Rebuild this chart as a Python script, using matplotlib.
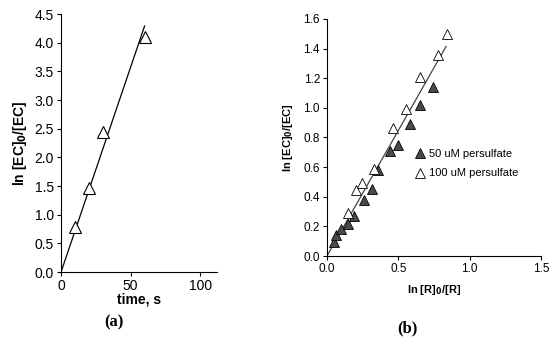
import numpy as np
import matplotlib.pyplot as plt

plt.rcParams['font.family'] = ['Liberation Sans', 'DejaVu Sans']

# panel (a): first-order plot vs time
time_s = [10, 20, 30, 60]
ln_ec_a = [0.78, 1.47, 2.45, 4.10]
fit_a_x = [0, 60]
fit_a_y = [0, 4.29]

# panel (b): competition kinetics
r50 = [0.047, 0.066, 0.098, 0.148, 0.19, 0.26, 0.316, 0.36, 0.445, 0.50, 0.58, 0.652, 0.745]
ec50 = [0.095, 0.142, 0.185, 0.216, 0.27, 0.378, 0.45, 0.58, 0.707, 0.747, 0.89, 1.017, 1.143]
r100 = [0.145, 0.20, 0.248, 0.33, 0.46, 0.553, 0.652, 0.78, 0.839]
ec100 = [0.288, 0.445, 0.49, 0.59, 0.864, 0.995, 1.21, 1.36, 1.50]
fit_b_x = [0, 0.835]
fit_b_y = [0, 1.415]

fig = plt.figure(figsize=(5.5, 3.39), dpi=100)

ax1 = fig.add_axes([0.111, 0.1976, 0.2835, 0.7611])
ax1.plot(fit_a_x, fit_a_y, color='black', lw=0.9)
ax1.plot(time_s, ln_ec_a, linestyle='none', marker='^', markersize=9,
         markerfacecolor='white', markeredgecolor='black', markeredgewidth=0.8)
ax1.set_xlim(0, 112)
ax1.set_ylim(0, 4.5)
ax1.set_xticks([0, 50, 100])
ax1.set_yticks(np.arange(0, 4.51, 0.5))
ax1.set_yticklabels(['%.1f' % v for v in np.arange(0, 4.51, 0.5)])
ax1.set_xlabel('time, s', fontsize=10, fontweight='bold', labelpad=0)
ax1.set_ylabel(r'ln [EC]$_\mathbf{0}$/[EC]', fontsize=10, fontweight='bold', labelpad=4)

ax2 = fig.add_axes([0.5945, 0.2448, 0.3891, 0.6992])
ax2.plot(fit_b_x, fit_b_y, color='#444444', lw=0.9)
ax2.plot(r50, ec50, linestyle='none', marker='^', markersize=6.5,
         markerfacecolor='#4a4a4a', markeredgecolor='black', markeredgewidth=0.6,
         label='50 uM persulfate')
ax2.plot(r100, ec100, linestyle='none', marker='^', markersize=6.5,
         markerfacecolor='white', markeredgecolor='black', markeredgewidth=0.6,
         label='100 uM persulfate')
ax2.set_xlim(0, 1.5)
ax2.set_ylim(0, 1.6)
ax2.set_xticks([0, 0.5, 1.0, 1.5])
ax2.set_xticklabels(['0.0', '0.5', '1.0', '1.5'])
ax2.set_yticks(np.arange(0, 1.61, 0.2))
ax2.set_yticklabels(['%.1f' % v for v in np.arange(0, 1.61, 0.2)])
ax2.set_xlabel(r'ln [R]$_\mathbf{0}$/[R]', fontsize=8, fontweight='bold', labelpad=6)
ax2.set_ylabel(r'ln [EC]$_\mathbf{0}$/[EC]', fontsize=8, fontweight='bold', labelpad=6)
ax2.legend(loc='upper left', bbox_to_anchor=(0.385, 0.47), frameon=False,
           fontsize=8, handletextpad=0.2, handlelength=1.2, labelspacing=0.85,
           borderaxespad=0)

for ax, fs in [(ax1, 10), (ax2, 8.5)]:
    ax.spines['top'].set_visible(False)
    ax.spines['right'].set_visible(False)
    ax.spines['left'].set_linewidth(0.8)
    ax.spines['bottom'].set_linewidth(0.8)
    ax.tick_params(direction='out', length=3, width=0.8, labelsize=fs, pad=2)

fig.text(0.207, 0.05, '(a)', ha='center', va='center', fontsize=12,
         fontweight='bold', family=['Liberation Serif', 'DejaVu Serif'])
fig.text(0.74, 0.032, '(b)', ha='center', va='center', fontsize=12,
         fontweight='bold', family=['Liberation Serif', 'DejaVu Serif'])

fig.savefig('out.png', dpi=100)
